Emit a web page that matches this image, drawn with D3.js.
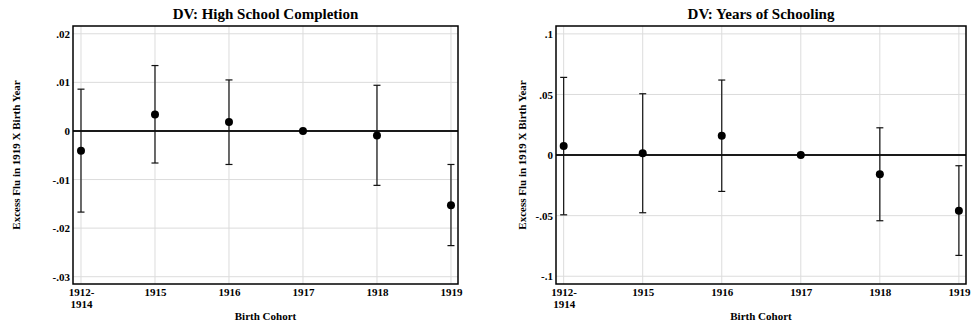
<!DOCTYPE html>
<html><head><meta charset="utf-8">
<script src="https://cdn.jsdelivr.net/npm/d3@7"></script>
<style>body{margin:0;background:#fff}svg{display:block}text{font-family:"Liberation Serif","Times New Roman",serif;font-weight:bold;fill:#000}</style>
</head><body><svg id="c" width="972" height="326"></svg>
<script>
const categories = ["1912-1914","1915","1916","1917","1918","1919"];
const hsEst  = [-0.0041, 0.0034, 0.00185, 0, -0.00095, -0.0153];
const hsLo   = [-0.0167, -0.0066, -0.0069, 0, -0.0112, -0.0236];
const hsHi   = [0.0086, 0.01346, 0.0105, 0, 0.0094, -0.0069];
const hsTicks = [0.02, 0.01, 0, -0.01, -0.02, -0.03];
const hsTickLabels = [".02", ".01", "0", "-.01", "-.02", "-.03"];
const ysEst  = [0.0074, 0.0014, 0.0159, 0, -0.0159, -0.046];
const ysLo   = [-0.0493, -0.0476, -0.030, 0, -0.0542, -0.0828];
const ysHi   = [0.0641, 0.0506, 0.0619, 0, 0.0225, -0.0088];
const ysTicks = [0.1, 0.05, 0, -0.05, -0.1];
const ysTickLabels = [".1", ".05", "0", "-.05", "-.1"];

const svg = d3.select("#c");
function panel(cfg){
  const g = svg.append("g");
  const x = d3.scaleLinear().domain(cfg.xdom).range([cfg.x0, cfg.x1]);
  const y = d3.scaleLinear().domain(cfg.ydom).range([cfg.y1, cfg.y0]);
  // grid
  g.selectAll(".vg").data(categories).enter().append("line")
    .attr("x1",(d,i)=>x(i)).attr("x2",(d,i)=>x(i)).attr("y1",cfg.y0).attr("y2",cfg.y1)
    .attr("stroke","#dcdcdc").attr("stroke-width",1);
  g.selectAll(".hg").data(cfg.ticks).enter().append("line")
    .attr("x1",cfg.x0).attr("x2",cfg.x1).attr("y1",d=>y(d)).attr("y2",d=>y(d))
    .attr("stroke","#dcdcdc").attr("stroke-width",1);
  // y axis labels
  const ya = d3.axisLeft(y).tickValues(cfg.ticks).tickSize(0).tickPadding(3)
    .tickFormat((d,i)=>cfg.labels[i]);
  const yg = g.append("g").attr("transform",`translate(${cfg.x0},0)`).call(ya);
  yg.select(".domain").remove();
  yg.selectAll("text").style("font-size","11px").style("font-family","Liberation Serif").style("font-weight","bold");
  // x axis labels
  const xa = d3.axisBottom(x).tickValues(d3.range(categories.length)).tickSize(0).tickPadding(5)
    .tickFormat(()=>"");
  const xg = g.append("g").attr("transform",`translate(0,${cfg.y1})`).call(xa);
  xg.select(".domain").remove();
  xg.selectAll(".tick").each(function(d,i){
    const t = d3.select(this).append("text").attr("text-anchor","middle")
      .style("font-size","11px").attr("y",12);
    const lab = categories[i];
    if(lab.includes("-")){
      const p = lab.split("-");
      t.append("tspan").attr("x",0).attr("dy",0).text(p[0]+"-");
      t.append("tspan").attr("x",0).attr("dy","1.1em").text(p[1]);
    } else t.text(lab);
  });
  // zero line
  g.append("line").attr("x1",cfg.x0).attr("x2",cfg.x1).attr("y1",y(0)).attr("y2",y(0))
    .attr("stroke","#1a1a1a").attr("stroke-width",2);
  // error bars
  const eb = g.selectAll(".eb").data(categories).enter().append("g");
  eb.append("line").attr("x1",(d,i)=>x(i)).attr("x2",(d,i)=>x(i))
    .attr("y1",(d,i)=>y(cfg.lo[i])).attr("y2",(d,i)=>y(cfg.hi[i]))
    .attr("stroke","#111").attr("stroke-width",1.2);
  [cfg.lo, cfg.hi].forEach(arr=>{
    eb.append("line").attr("x1",(d,i)=>x(i)-3.5).attr("x2",(d,i)=>x(i)+3.5)
      .attr("y1",(d,i)=>y(arr[i])).attr("y2",(d,i)=>y(arr[i]))
      .attr("stroke","#111").attr("stroke-width",1.2)
      .attr("display",(d,i)=>cfg.lo[i]===cfg.hi[i]?"none":null);
  });
  g.selectAll(".pt").data(cfg.est).enter().append("circle")
    .attr("cx",(d,i)=>x(i)).attr("cy",d=>y(d)).attr("r",4).attr("fill","#000");
  // frame
  g.append("rect").attr("x",cfg.x0).attr("y",cfg.y0).attr("width",cfg.x1-cfg.x0).attr("height",cfg.y1-cfg.y0)
    .attr("fill","none").attr("stroke","#000").attr("stroke-width",1.5);
  // titles
  g.append("text").attr("x",(cfg.x0+cfg.x1)/2).attr("y",19).attr("text-anchor","middle")
    .style("font-size","15px").text(cfg.title);
  g.append("text").attr("x",(cfg.x0+cfg.x1)/2).attr("y",320).attr("text-anchor","middle")
    .style("font-size","11px").text("Birth Cohort");
  g.append("text").attr("transform",`translate(${cfg.ytx},${(cfg.y0+cfg.y1)/2}) rotate(-90)`)
    .attr("text-anchor","middle").style("font-size","11px").text("Excess Flu in 1919 X Birth Year");
}
panel({x0:73,x1:458,y0:26,y1:284,xdom:[-0.108,5.095],ydom:[-0.0315,0.0216],
  ticks:hsTicks,labels:hsTickLabels,est:hsEst,lo:hsLo,hi:hsHi,
  title:"DV: High School Completion",ytx:20});
panel({x0:556,x1:966,y0:26,y1:284,xdom:[-0.097,5.09],ydom:[-0.1064,0.1065],
  ticks:ysTicks,labels:ysTickLabels,est:ysEst,lo:ysLo,hi:ysHi,
  title:"DV: Years of Schooling",ytx:526});
</script></body></html>
